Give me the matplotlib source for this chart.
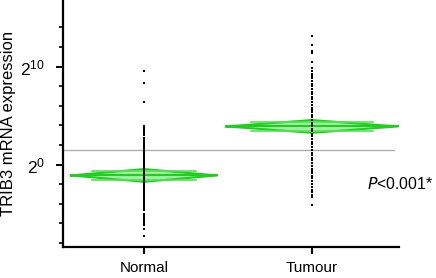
import numpy as np
import matplotlib
matplotlib.use("Agg")
import matplotlib.pyplot as plt
from matplotlib.ticker import FixedLocator, NullFormatter

plt.rcParams['font.family'] = ['Liberation Sans', 'DejaVu Sans']

groups = ["Normal", "Tumour"]

# log2 expression values
normal_log2 = [9.6, 8.3, 6.4,
               3.9, 3.7, 3.6, 3.4, 3.2, 3.0, 2.7, 2.5, 2.4, 2.2, 2.0, 1.8, 1.6,
               1.4, 1.2, 1.0, 0.8, 0.6, 0.4, 0.2, 0.0, -0.2, -0.4, -0.6, -0.8,
               -1.0, -1.2, -1.4, -1.6, -1.8, -2.0, -2.2, -2.4, -2.6, -2.8, -3.0,
               -3.2, -3.4, -3.6, -3.8, -4.0, -4.2, -4.4, -4.6,
               -5.0, -5.2, -5.4, -5.6, -5.8, -6.0, -6.2, -6.6, -7.3]
tumour_log2 = [13.1, 12.2, 11.6, 11.4, 10.5, 9.9, 9.6, 9.3, 9.0, 8.8, 8.5, 8.2,
               8.0, 7.7, 7.4, 7.2, 6.9, 6.7, 6.4, 6.1, 5.8, 5.6, 5.4, 5.1, 4.9,
               4.6, 4.3, 4.1, 3.9, 3.6, 3.4, 3.1, 2.9, 2.6, 2.3, 2.1, 1.8, 1.5,
               1.2, 1.0, 0.7, 0.5, 0.2, -0.1, -0.4, -0.6, -0.9, -1.2, -1.4,
               -1.7, -2.0, -2.3, -2.6, -2.8, -3.1, -3.3, -4.1]

# means diamonds: centre, half height (log2), half width (category units)
diamond_mean = [-1.1, 3.9]
diamond_half_h = [0.65, 0.65]
diamond_half_w = [0.435, 0.51]
grand_mean = 1.5
p_text = "<0.001*"

fig = plt.figure(figsize=(4.36, 2.78), dpi=100)
ax = fig.add_axes([63 / 436, 31 / 278, 336 / 436, 247 / 278])
ax.set_yscale('log', base=2)

green = '#22cc22'
for i, (m, h, w) in enumerate(zip(diamond_mean, diamond_half_h, diamond_half_w)):
    xs = [i - w, i, i + w, i, i - w]
    ys = [2.0 ** m, 2.0 ** (m + h), 2.0 ** m, 2.0 ** (m - h), 2.0 ** m]
    ax.fill(xs, ys, color='#9ff09f', lw=0, zorder=1.5)
    ax.plot(xs, ys, color=green, lw=1.5, zorder=2)
    ax.plot([i - w, i + w], [2.0 ** m, 2.0 ** m], color=green, lw=1.5, zorder=2)
    o = h / np.sqrt(2)
    ow = w * (1 - 1 / np.sqrt(2))
    for s in (1, -1):
        ax.plot([i - w + ow, i + w - ow], [2.0 ** (m + s * o)] * 2,
                color='#5fdc5f', lw=1.2, zorder=2)

ax.plot([-0.482, 1.49], [2.0 ** grand_mean] * 2, color='#b0b0b0', lw=1.0, zorder=1)

for i, vals in enumerate([normal_log2, tumour_log2]):
    ax.plot([i] * len(vals), [2.0 ** v for v in vals], 's', color='black',
            ms=2.1, mew=0, zorder=3)

ax.text(1.33, 2.0 ** -2.0, "$P$" + p_text, fontsize=11.3, ha='left', va='center')

ax.set_xlim(-0.482, 1.518)
ax.set_ylim(2.0 ** -8.4, 2.0 ** 16.8)
ax.set_xticks([0, 1])
ax.set_xticklabels(groups, fontsize=11)
ax.yaxis.set_major_locator(FixedLocator([2.0 ** 0, 2.0 ** 10]))
ax.set_yticklabels([r"$\mathdefault{2^{0}}$", r"$\mathdefault{2^{10}}$"], fontsize=12.5)
ax.yaxis.set_minor_locator(FixedLocator([2.0 ** k for k in range(-8, 16, 2) if k not in (0, 10)]))
ax.yaxis.set_minor_formatter(NullFormatter())
ax.set_ylabel("TRIB3 mRNA expression", fontsize=12, labelpad=3)

for s in ('top', 'right'):
    ax.spines[s].set_visible(False)
for s in ('left', 'bottom'):
    ax.spines[s].set_linewidth(1.6)
ax.tick_params(axis='y', which='major', length=5, width=1.4, pad=8)
ax.tick_params(axis='y', which='minor', length=3, width=1.2)
ax.tick_params(axis='x', length=5, width=1.4, pad=5)

fig.savefig("out.png", dpi=100)
